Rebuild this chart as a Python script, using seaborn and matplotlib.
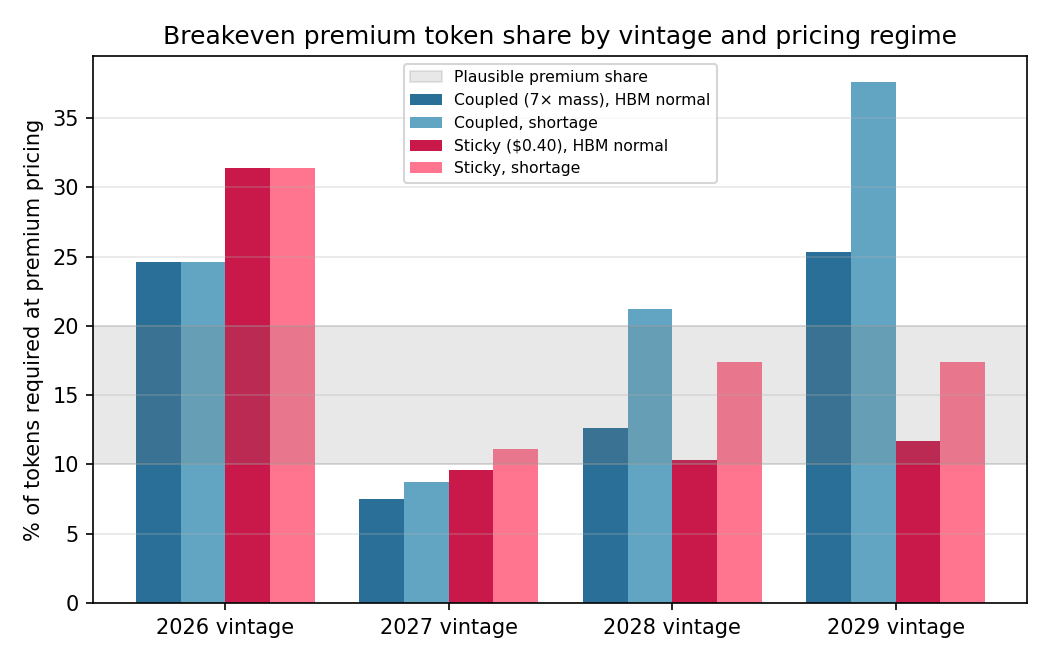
import pandas as pd
import matplotlib
matplotlib.use('Agg')
import matplotlib.pyplot as plt
import seaborn as sns

# -------------------------------------------
# Data
# -------------------------------------------
vintages = ['2026 vintage', '2027 vintage', '2028 vintage', '2029 vintage']
regimes = ['Coupled (7× mass), HBM normal', 'Coupled, shortage',
           'Sticky ($0.40), HBM normal', 'Sticky, shortage']
coupled_normal = [24.6, 7.5, 12.6, 25.3]
coupled_shortage = [24.6, 8.7, 21.2, 37.6]
sticky_normal = [31.4, 9.6, 10.3, 11.7]
sticky_shortage = [31.4, 11.1, 17.4, 17.4]
plausible_band = (10, 20)
colors = ['#2a6f97', '#61a5c2', '#c9184a', '#ff758f']

rows = []
for regime, vals in zip(regimes, [coupled_normal, coupled_shortage, sticky_normal, sticky_shortage]):
    for v, val in zip(vintages, vals):
        rows.append({'vintage': v, 'regime': regime, 'share': val})
df = pd.DataFrame(rows)

fig, ax = plt.subplots(figsize=(7, 4.4), dpi=150)
sns.barplot(data=df, x='vintage', y='share', hue='regime', order=vintages,
            hue_order=regimes, palette=colors, saturation=1, width=0.8, ax=ax)

ax.axhspan(plausible_band[0], plausible_band[1], color='gray', alpha=0.18,
           label='Plausible premium share')
ax.grid(axis='y', alpha=0.3)
ax.set_xlim(-0.59, 3.59)
ax.set_xlabel('')
ax.set_ylabel('% of tokens required at premium pricing')
ax.set_title('Breakeven premium token share by vintage and pricing regime')

handles, labels = ax.get_legend_handles_labels()
order = [labels.index('Plausible premium share')] + [labels.index(r) for r in regimes]
ax.legend([handles[i] for i in order], [labels[i] for i in order],
          loc='upper center', fontsize=7.5)

plt.tight_layout()
plt.subplots_adjust(left=0.089, top=0.915)
plt.savefig('out.png', dpi=150)
